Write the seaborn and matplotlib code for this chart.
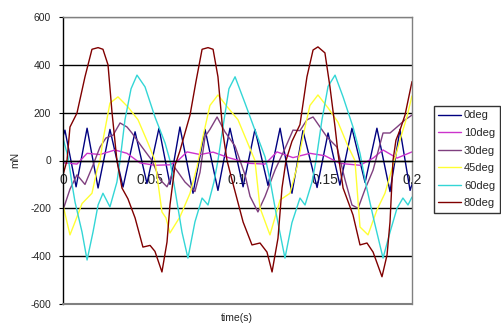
import numpy as np
import pandas as pd
import matplotlib
matplotlib.use("Agg")
import matplotlib.pyplot as plt
import seaborn as sns

series_names = ["0deg", "10deg", "30deg", "45deg", "60deg", "80deg"]
series_colors = ["#000080", "#CC33CC", "#7F3F7F", "#FFFF33", "#33D6D6", "#800000"]

t_0deg = [0.0000, 0.0011, 0.0075, 0.0138, 0.0201, 0.0269, 0.0344, 0.0413, 0.0481, 0.0550,
          0.0613, 0.0670, 0.0745, 0.0814, 0.0888, 0.0957, 0.1032, 0.1100, 0.1175, 0.1244,
          0.1312, 0.1375, 0.1456, 0.1519, 0.1587, 0.1656, 0.1731, 0.1799, 0.1874, 0.1931,
          0.1989, 0.2000]
v_0deg = [100, 127, -110, 135, -115, 130, -111, 120, -96, 135,
          -100, 140, -137, 130, -125, 135, -110, 130, -105, 135,
          -137, 125, -113, 115, -103, 135, -92, 135, -130, 130,
          -125, -100]

t_10deg = [0.0000, 0.0040, 0.0080, 0.0138, 0.0212, 0.0298, 0.0367, 0.0441, 0.0527, 0.0613,
           0.0659, 0.0711, 0.0785, 0.0860, 0.0957, 0.1072, 0.1158, 0.1226, 0.1318, 0.1415,
           0.1501, 0.1587, 0.1702, 0.1777, 0.1834, 0.1914, 0.2000]
v_10deg = [-10, -12, -15, 30, 25, 44, 30, -10, -20, -18,
           0, 36, 25, 35, 10, -12, -15, 36, 12, 30,
           20, -12, -20, 10, 44, 10, 36]

t_30deg = [0.0000, 0.0040, 0.0080, 0.0126, 0.0166, 0.0212, 0.0246, 0.0287, 0.0327, 0.0367,
           0.0395, 0.0453, 0.0510, 0.0556, 0.0596, 0.0642, 0.0699, 0.0756, 0.0785, 0.0814,
           0.0842, 0.0883, 0.0928, 0.0986, 0.1043, 0.1072, 0.1117, 0.1158, 0.1215, 0.1272,
           0.1318, 0.1358, 0.1398, 0.1433, 0.1473, 0.1513, 0.1570, 0.1616, 0.1656, 0.1691,
           0.1731, 0.1777, 0.1834, 0.1874, 0.1914, 0.1960, 0.2000]
v_30deg = [-207, -120, -60, -100, -30, 56, 94, 106, 157, 140,
           115, 56, 0, -80, -110, -31, -90, -130, -50, 100,
           130, 182, 120, 60, -60, -150, -215, -150, -40, 50,
           127, 125, 170, 182, 140, 98, 56, -80, -186, -200,
           -120, -40, 115, 115, 140, 170, 190]

t_45deg = [0.0000, 0.0040, 0.0069, 0.0109, 0.0166, 0.0195, 0.0212, 0.0229, 0.0269, 0.0315,
           0.0372, 0.0430, 0.0487, 0.0527, 0.0567, 0.0590, 0.0613, 0.0670, 0.0728, 0.0768,
           0.0802, 0.0842, 0.0888, 0.0946, 0.1003, 0.1060, 0.1100, 0.1129, 0.1186, 0.1244,
           0.1301, 0.1341, 0.1375, 0.1415, 0.1461, 0.1519, 0.1576, 0.1633, 0.1673, 0.1702,
           0.1748, 0.1799, 0.1845, 0.1891, 0.1931, 0.1971, 0.2000]
v_45deg = [-186, -311, -257, -180, -137, -40, 0, 85, 240, 266,
           224, 170, 73, 0, -215, -240, -303, -236, -137, -27,
           100, 230, 274, 220, 170, 70, 0, -198, -311, -165,
           -137, -27, 100, 230, 274, 220, 160, 60, 0, -278,
           -311, -207, -137, -20, 86, 183, 270]

t_60deg = [0.0000, 0.0029, 0.0052, 0.0069, 0.0109, 0.0138, 0.0172, 0.0201, 0.0229, 0.0269,
           0.0309, 0.0327, 0.0355, 0.0390, 0.0424, 0.0470, 0.0527, 0.0585, 0.0613, 0.0648,
           0.0682, 0.0716, 0.0756, 0.0797, 0.0831, 0.0865, 0.0888, 0.0923, 0.0951, 0.0986,
           0.1043, 0.1100, 0.1158, 0.1186, 0.1221, 0.1272, 0.1312, 0.1358, 0.1387, 0.1427,
           0.1450, 0.1484, 0.1519, 0.1559, 0.1605, 0.1662, 0.1702, 0.1736, 0.1782, 0.1834,
           0.1874, 0.1914, 0.1948, 0.1977, 0.2000]
v_60deg = [94, 15, -100, -174, -299, -416, -299, -186, -137, -194,
           -90, 0, 170, 300, 357, 308, 182, 73, 0, -150,
           -300, -408, -257, -157, -186, -90, 0, 170, 300, 350,
           240, 127, 15, -80, -220, -408, -260, -157, -186, -90,
           0, 170, 310, 357, 266, 140, 30, -100, -250, -408,
           -300, -200, -157, -186, -153]

t_80deg = [0.0000, 0.0023, 0.0040, 0.0080, 0.0126, 0.0166, 0.0201, 0.0229, 0.0258, 0.0281,
           0.0309, 0.0338, 0.0372, 0.0413, 0.0458, 0.0499, 0.0527, 0.0567, 0.0596, 0.0613,
           0.0642, 0.0670, 0.0693, 0.0728, 0.0762, 0.0797, 0.0831, 0.0860, 0.0888, 0.0917,
           0.0940, 0.0968, 0.0997, 0.1032, 0.1083, 0.1129, 0.1169, 0.1198, 0.1232, 0.1255,
           0.1278, 0.1312, 0.1358, 0.1398, 0.1433, 0.1461, 0.1501, 0.1530, 0.1559, 0.1576,
           0.1605, 0.1662, 0.1702, 0.1742, 0.1777, 0.1828, 0.1857, 0.1874, 0.1891, 0.1908,
           0.1931, 0.1960, 0.2000]
v_80deg = [-60, 0, 140, 198, 350, 465, 472, 465, 400, 200,
           0, -115, -160, -240, -362, -355, -380, -466, -341, -186,
           -20, 40, 100, 190, 330, 465, 472, 465, 350, 113,
           0, -80, -160, -257, -353, -345, -383, -466, -325, -115,
           0, 80, 150, 350, 462, 475, 450, 307, 140, 30,
           -115, -228, -353, -345, -383, -486, -395, -257, 0, 85,
           127, 190, 330]

y_ticks = [-600, -400, -200, 0, 200, 400, 600]
x_ticks = [0, 0.05, 0.1, 0.15, 0.2]
x_tick_labels = ["0", "0.05", "0.1", "0.15", "0.2"]

all_t = [t_0deg, t_10deg, t_30deg, t_45deg, t_60deg, t_80deg]
all_v = [v_0deg, v_10deg, v_30deg, v_45deg, v_60deg, v_80deg]
frames = []
for name, t, v in zip(series_names, all_t, all_v):
    frames.append(pd.DataFrame({"time": t, "mN": v, "series": name}))
df = pd.concat(frames, ignore_index=True)

sns.set_style("white")
plt.rcParams["font.family"] = ["Liberation Sans", "DejaVu Sans"]
FS = 7.5

fig = plt.figure(figsize=(5.01, 3.27), dpi=100)
ax = fig.add_axes([63 / 501, 23 / 327, 349 / 501, 287 / 327])

sns.lineplot(data=df, x="time", y="mN", hue="series", hue_order=series_names,
             palette=series_colors, estimator=None, sort=False, linewidth=1.0,
             ax=ax, legend=True)

ax.set_xlim(0, 0.2)
ax.set_ylim(-600, 600)
ax.set_yticks(y_ticks)
ax.set_yticklabels([str(v) for v in y_ticks], fontsize=FS)
ax.set_xticks(x_ticks)
ax.set_xticklabels(x_tick_labels, fontsize=FS)
ax.set_xlabel("")
ax.set_ylabel("")

ax.grid(axis="y", color="black", linewidth=1.0)
ax.grid(axis="x", visible=False)
gl = ax.get_ygridlines()
gl[0].set_visible(False)
gl[-1].set_color("#808080")

ax.spines["bottom"].set_position(("data", 0))
ax.spines["bottom"].set_color("black")
ax.spines["bottom"].set_linewidth(1.0)
ax.spines["left"].set_color("black")
ax.spines["left"].set_linewidth(1.0)
for s in ["top", "right"]:
    ax.spines[s].set_color("#808080")
    ax.spines[s].set_linewidth(1.0)
ax.axhline(-600, color="#808080", linewidth=1.5, clip_on=False, zorder=3)

ax.tick_params(axis="y", direction="out", length=3, pad=5.5, color="black", left=True)
ax.tick_params(axis="x", length=0, pad=9)

fig.text(237 / 501, 1 - 318 / 327, "time(s)", ha="center", va="center", fontsize=FS)
fig.text(15 / 501, 1 - 160 / 327, "mN", ha="center", va="center", rotation=90, fontsize=FS)

handles, labels = ax.get_legend_handles_labels()
ax.legend_.remove()
leg = fig.legend(handles, labels, loc="upper left", bbox_to_anchor=(434 / 501, 1 - 106 / 327),
                 fontsize=8, frameon=True, fancybox=False, edgecolor="black",
                 handlelength=2.0, handletextpad=0.3, labelspacing=0.68,
                 borderpad=0.4, borderaxespad=0)
leg.get_frame().set_linewidth(1.0)

fig.savefig("out.png", dpi=100)
